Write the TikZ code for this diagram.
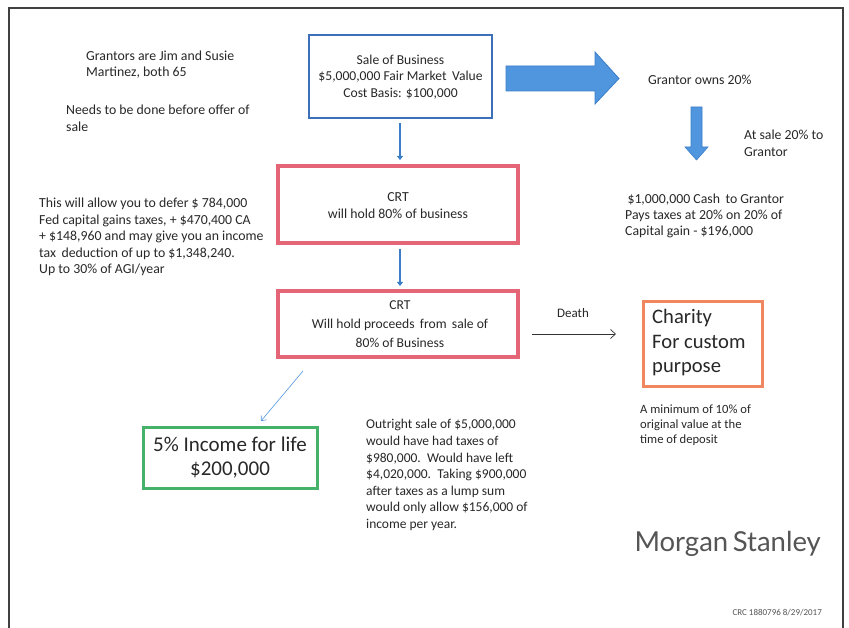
\documentclass[tikz,border=0pt]{standalone}
\usepackage{fontspec}
\setmainfont{Carlito}
\newfontfamily\msfont{Lato}
\usetikzlibrary{arrows.meta}
\definecolor{txt}{RGB}{40,40,40}
\definecolor{boxblue}{RGB}{60,112,185}
\definecolor{arrblue}{RGB}{80,150,222}
\definecolor{arrblueD}{RGB}{60,125,200}
\definecolor{crtred}{RGB}{228,102,118}
\definecolor{charor}{RGB}{240,135,95}
\definecolor{incgreen}{RGB}{70,178,105}
\definecolor{msgrey}{RGB}{85,85,85}
\tikzset{
  plain/.style={inner sep=0pt, text=txt, align=left, anchor=west, font={\fontsize{13.8}{16.8}\selectfont}},
  boxtext/.style={inner sep=0pt, text=txt, align=center, font={\fontsize{13.6}{16.5}\selectfont}},
  thinarrow/.style={draw=arrblueD, line width=2.2pt, -{Triangle[width=6pt,length=4pt]}},
}
\begin{document}
\begin{tikzpicture}[x=1pt,y=-1pt]
\useasboundingbox (0,0) rectangle (849,628);
\fill[white] (0,0) rectangle (849,628);
% frame
\draw[line width=1.6pt, black!75] (9,640) -- (9,8) -- (843,8) -- (843,640);

% left texts
\node[plain] (grantors) at (86,64.5) {Grantors are Jim and Susie\\Martinez, both 65};
\node[plain] (needs) at (66,118.5) {Needs to be done before offer of\\sale};
\node[plain, font={\fontsize{13.8}{16.5}\selectfont}] (defer) at (39,237) {This will allow you to defer \$ 784,000\\Fed capital gains taxes, + \$470,400 CA\\+ \$148,960 and may give you an income\\tax\, deduction of up to \$1,348,240.\\Up to 30\% of AGI/year};

% top box
\draw[boxblue, line width=2pt] (309,35) rectangle (492,118);
\node[boxtext] (sale) at (400.5,77) {Sale of Business\\\$5,000,000 Fair Market\, Value\\Cost Basis: \$100,000};
\coordinate (saleS) at (400,123);

% big arrow
\draw[arrblueD, fill=arrblue, line width=0.8pt] (506,66) -- (595,66) -- (595,52) -- (619,78.5) -- (595,104) -- (595,91) -- (506,91) -- cycle;
\node[plain] (owns) at (648,80) {Grantor owns 20\%};
% down arrow right
\draw[arrblueD, fill=arrblue, line width=0.6pt] (691,107) -- (702,107) -- (702,147) -- (708,147) -- (696.5,160) -- (685,147) -- (691,147) -- cycle;
\node[plain] (atsale) at (744,143) {At sale 20\% to\\Grantor};
\node[plain, font={\fontsize{13.8}{16.2}\selectfont}] (cash) at (625,216) {\,\$1,000,000 Cash\, to Grantor\\Pays taxes at 20\% on 20\% of\\Capital gain - \$196,000};

% CRT 1
\draw[crtred, line width=3.5pt] (278,166) rectangle (518,243);
\node[boxtext, font={\fontsize{13.8}{17}\selectfont}] (crt1) at (398,205.5) {CRT\\will hold 80\% of business};
\coordinate (crt1N) at (400,160);
\coordinate (crt1S) at (400,249);
\draw[thinarrow] (saleS) -- (crt1N);

% CRT 2
\draw[crtred, line width=3.5pt] (278,291) rectangle (518,357);
\node[boxtext, font={\fontsize{13.6}{19}\selectfont}] (crt2) at (400,324) {CRT\\Will hold proceeds\, from\, sale of\\80\% of Business};
\coordinate (crt2N) at (400,286);
\draw[thinarrow] (crt1S) -- (crt2N);

% death arrow
\coordinate (deathA) at (532,334);
\coordinate (deathB) at (616,334);
\draw[black!80, line width=0.7pt, -{Straight Barb[length=5pt,width=9pt]}] (deathA) -- (deathB);
\node[boxtext, font={\fontsize{13}{16}\selectfont}] (death) at (573,313) {Death};

% charity
\draw[charor, line width=3pt] (643,302) rectangle (762,386);
\node[inner sep=0pt, text=txt, align=left, anchor=west, font={\fontsize{20.6}{24.5}\selectfont}] (charity) at (652,343) {Charity\\For custom\\purpose};
\node[inner sep=0pt, text=txt, align=left, anchor=west, font={\fontsize{12.6}{15}\selectfont}] (minimum) at (640,425.5) {A minimum of 10\% of\\original value at the\\time of deposit};

% income arrow
\coordinate (incA) at (303,371);
\coordinate (incB) at (261,421);
\draw[arrblue, line width=0.6pt, -{Straight Barb[length=4pt,width=7pt]}] (incA) -- (incB);

% income box
\draw[incgreen, line width=3pt] (143,427) rectangle (317,488);
\node[boxtext, font={\fontsize{21}{23.5}\selectfont}] (income) at (230,457.5) {5\% Income for life\\\$200,000};

% outright text
\node[plain, font={\fontsize{13.5}{16.6}\selectfont}] (outright) at (366,475) {Outright sale of \$5,000,000\\would have had taxes of\\\$980,000.\, Would have left\\\$4,020,000.\, Taking \$900,000\\after taxes as a lump sum\\would only allow \$156,000 of\\income per year.};

% logo
\node[inner sep=0pt, anchor=east, text=msgrey, font={\msfont\fontsize{27.5}{27.5}\selectfont}] (ms) at (821,544) {Morgan\,Stanley};
\node[inner sep=0pt, anchor=east, text=txt!80, font={\fontsize{9}{10}\selectfont}] (crc) at (822,613) {CRC 1880796 8/29/2017};
\end{tikzpicture}
\end{document}
